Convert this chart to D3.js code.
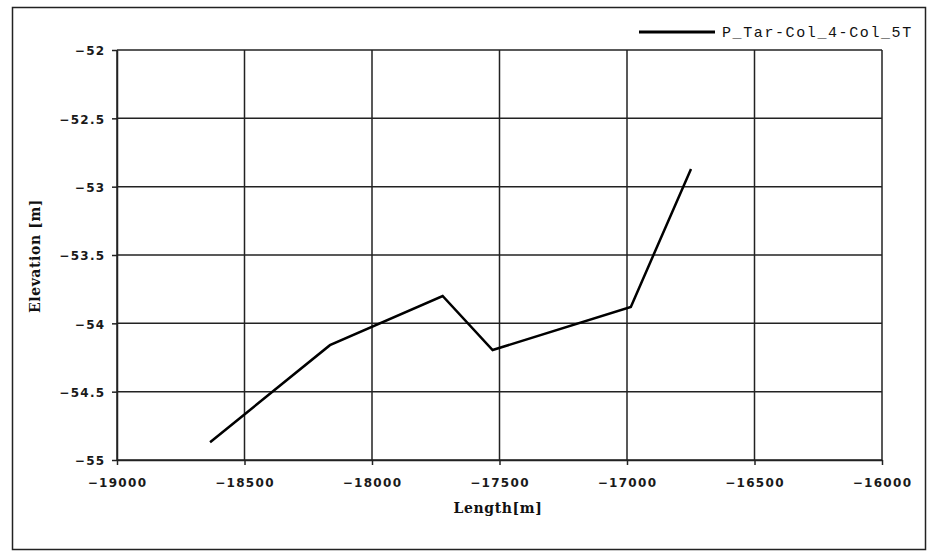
<!DOCTYPE html>
<html>
<head>
<meta charset="utf-8">
<script src="https://cdn.jsdelivr.net/npm/d3@7"></script>
<style>
  body { margin: 0; background: #fff; }
  .tick text { font-family: "DejaVu Sans", sans-serif; font-weight: bold; font-size: 12px; letter-spacing: 1.3px; fill: #1a1a1a; }
  .axis-title { font-family: "DejaVu Serif", serif; font-weight: bold; font-size: 14px; letter-spacing: 0.6px; fill: #111; }
  .legend-text { font-family: "Liberation Mono", monospace; font-size: 15px; letter-spacing: 1.6px; fill: #111; }
</style>
</head>
<body>
<svg id="chart"></svg>
<script>
// Profile data
const lengths = [-18635, -18165, -17723, -17527, -16985, -16749];
const elevations = [-54.87, -54.16, -53.80, -54.195, -53.88, -52.87];
const xTicks = [-19000, -18500, -18000, -17500, -17000, -16500, -16000];
const yTicks = [-52, -52.5, -53, -53.5, -54, -54.5, -55];
const seriesName = "P_Tar-Col_4-Col_5T";

const width = 930, height = 551;
const margin = { top: 50, right: 48, bottom: 91, left: 117 };
const innerW = width - margin.left - margin.right;
const innerH = height - margin.top - margin.bottom;

const svg = d3.select("#chart").attr("width", width).attr("height", height);

// Outer frame
svg.append("rect")
  .attr("x", 12.5).attr("y", 7.5)
  .attr("width", 913).attr("height", 542)
  .attr("fill", "#fff").attr("stroke", "#222").attr("stroke-width", 1.5);

const chart = svg.append("g")
  .attr("transform", `translate(${margin.left}, ${margin.top})`);

const x = d3.scaleLinear().domain([-19000, -16000]).range([0, innerW]);
const y = d3.scaleLinear().domain([-55, -52]).range([innerH, 0]);

// Grid lines
chart.append("g")
  .selectAll("line")
  .data(xTicks)
  .join("line")
  .attr("x1", (d) => x(d)).attr("x2", (d) => x(d))
  .attr("y1", 0).attr("y2", innerH)
  .attr("stroke", "#222").attr("stroke-width", 1.5);

chart.append("g")
  .selectAll("line")
  .data(yTicks)
  .join("line")
  .attr("x1", 0).attr("x2", innerW)
  .attr("y1", (d) => y(d)).attr("y2", (d) => y(d))
  .attr("stroke", "#222").attr("stroke-width", 1.5);

// Axes
const fmt = (d) => "\u2212" + Math.abs(d);
const xAxis = d3.axisBottom(x).tickValues(xTicks).tickSize(5).tickSizeOuter(0).tickFormat(fmt);
const yAxis = d3.axisLeft(y).tickValues(yTicks).tickSize(5).tickSizeOuter(0).tickFormat(fmt);

chart.append("g")
  .attr("transform", `translate(0, ${innerH})`)
  .call(xAxis)
  .call((g) => g.select(".domain").attr("stroke", "#222").attr("stroke-width", 1.5))
  .call((g) => g.selectAll(".tick line").attr("stroke", "#222").attr("stroke-width", 1.5))
  .call((g) => g.selectAll(".tick text").attr("y", 18).attr("dy", "0.71em"));

chart.append("g")
  .call(yAxis)
  .call((g) => g.select(".domain").attr("stroke", "#222").attr("stroke-width", 1.5))
  .call((g) => g.selectAll(".tick line").attr("stroke", "#222").attr("stroke-width", 1.5))
  .call((g) => g.selectAll(".tick text").attr("x", -11.5).attr("dy", "0.4em"));

// Axis titles
svg.append("text")
  .attr("class", "axis-title")
  .attr("x", 498).attr("y", 513)
  .attr("text-anchor", "middle")
  .text("Length[m]");

svg.append("text")
  .attr("class", "axis-title")
  .attr("transform", "translate(40, 256) rotate(-90)")
  .attr("text-anchor", "middle")
  .text("Elevation [m]");

// Series line
const points = lengths.map((d, i) => ({ x: d, y: elevations[i] }));
const line = d3.line().x((d) => x(d.x)).y((d) => y(d.y));

chart.append("path")
  .datum(points)
  .attr("fill", "none")
  .attr("stroke", "#000")
  .attr("stroke-width", 2.5)
  .attr("d", line);

// Legend
svg.append("line")
  .attr("x1", 639).attr("x2", 715)
  .attr("y1", 32).attr("y2", 32)
  .attr("stroke", "#000").attr("stroke-width", 3);

svg.append("text")
  .attr("class", "legend-text")
  .attr("x", 722).attr("y", 37)
  .text(seriesName);
</script>
</body>
</html>
